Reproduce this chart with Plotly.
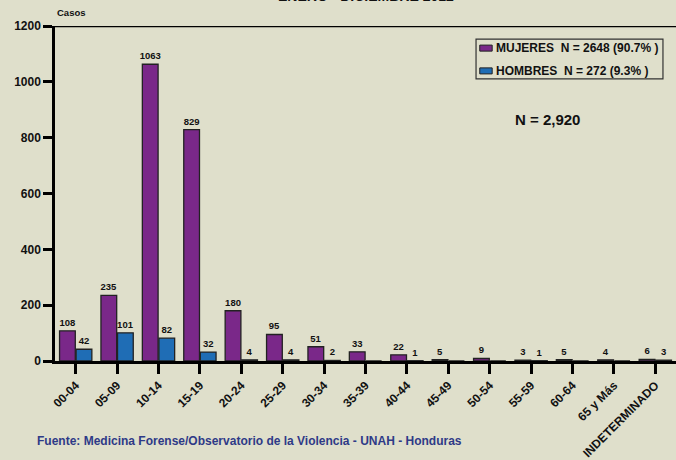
import plotly.graph_objects as go

# grupos de edad y casos
grupos = ["00-04", "05-09", "10-14", "15-19", "20-24", "25-29", "30-34", "35-39",
          "40-44", "45-49", "50-54", "55-59", "60-64", "65 y Más", "INDETERMINADO"]
mujeres = [108, 235, 1063, 829, 180, 95, 51, 33, 22, 5, 9, 3, 5, 4, 6]
hombres = [42, 101, 82, 32, 4, 4, 2, 0, 1, 0, 0, 1, 0, 0, 3]

leyenda_m = "MUJERES  N = 2648 (90.7% )"
leyenda_h = "HOMBRES  N = 272 (9.3% )"

FONT = "Arial, Liberation Sans, sans-serif"
BG = "#DFDFCB"
PURPLE = "#7A2889"
BLUE = "#1F6DB5"

fig = go.Figure()
fig.add_trace(go.Bar(x=grupos, y=mujeres, name=leyenda_m,
                     marker=dict(color=PURPLE, line=dict(color="#222", width=1.3)),
                     text=[str(v) if v else "" for v in mujeres], textposition="outside",
                     textfont=dict(size=9.5, color="#111", family=FONT),
                     constraintext="none", cliponaxis=False))
fig.add_trace(go.Bar(x=grupos, y=hombres, name=leyenda_h,
                     marker=dict(color=BLUE, line=dict(color="#222", width=1.3)),
                     text=[str(v) if v else "" for v in hombres], textposition="outside",
                     textfont=dict(size=9.5, color="#111", family=FONT),
                     constraintext="none", cliponaxis=False))

fig.update_layout(
    width=676, height=460,
    paper_bgcolor=BG, plot_bgcolor=BG,
    margin=dict(l=55, r=0, t=26, b=99),
    barmode="group", bargap=0.2, bargroupgap=0.05,
    font=dict(family=FONT, size=12, color="#111", weight="bold"),
    showlegend=False,
)
fig.update_xaxes(type="category", showline=True, linecolor="#000", linewidth=2.5,
                 ticks="outside", ticklen=10, tickwidth=2.5, tickcolor="#000",
                 tickangle=-45, tickfont=dict(size=12, weight="bold"))
fig.update_yaxes(range=[0, 1200], dtick=200, showgrid=False, zeroline=False,
                 showline=True, linecolor="#000", linewidth=2.5,
                 ticks="outside", ticklen=9, tickwidth=2.5, tickcolor="#000",
                 tickfont=dict(size=12, weight="bold"))

# linea superior del marco
fig.add_shape(type="line", xref="paper", yref="y", x0=-0.016, x1=1, y0=1200, y1=1200,
              line=dict(color="#000", width=2.5))

# leyenda dibujada a mano
fig.add_shape(type="rect", xref="paper", yref="paper", x0=0.678, x1=0.979, y0=0.842, y1=0.961,
              line=dict(color="#333", width=1.2), fillcolor=BG)
for (y0, y1, col, txt, ty) in [(0.925, 0.943, PURPLE, leyenda_m, 0.934),
                               (0.857, 0.875, BLUE, leyenda_h, 0.866)]:
    fig.add_shape(type="rect", xref="paper", yref="paper", x0=0.684, x1=0.704, y0=y0, y1=y1,
                  line=dict(color="#222", width=1), fillcolor=col)
    fig.add_annotation(text=txt, xref="paper", yref="paper", x=0.707, y=ty,
                       xanchor="left", yanchor="middle", showarrow=False,
                       font=dict(size=12, weight="bold"))

fig.add_annotation(text="ENERO - DICIEMBRE 2012", xref="paper", yref="paper",
                   x=0.5, y=1.06, yanchor="bottom", showarrow=False,
                   font=dict(size=14, weight="bold"))
fig.add_annotation(text="Casos", xref="paper", yref="paper", x=0.0, y=1.0, yshift=6,
                   xanchor="left", yanchor="bottom", showarrow=False,
                   font=dict(size=9.5, weight="bold"))
fig.add_annotation(text="N = 2,920", xref="paper", yref="paper", x=0.849, y=0.752,
                   showarrow=False, font=dict(size=15, weight="bold"))
fig.add_annotation(text="Fuente: Medicina Forense/Observatorio de la Violencia - UNAH - Honduras",
                   xref="paper", yref="paper", x=-0.032, y=-0.239, xanchor="left",
                   yanchor="middle", showarrow=False,
                   font=dict(size=12, weight="bold", color="#2E3A87"))

fig.write_html("out.html", config={"displayModeBar": False},
               post_script="document.body.style.margin='0';")
